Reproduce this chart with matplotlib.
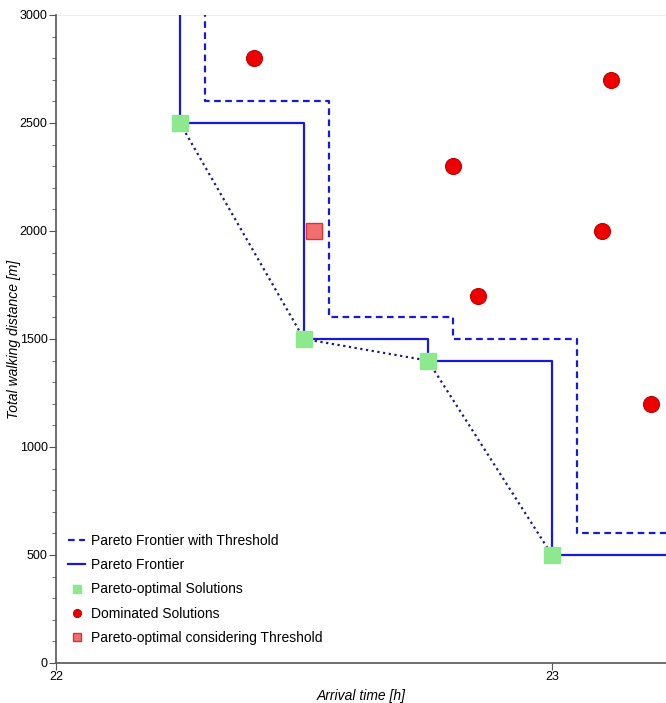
import matplotlib
matplotlib.use("Agg")
import matplotlib.pyplot as plt
from matplotlib.ticker import MultipleLocator

plt.rcParams['font.family'] = ['Liberation Sans', 'DejaVu Sans']

# Data
pareto_x = [22.25, 22.5, 22.75, 23.0]
pareto_y = [2500, 1500, 1400, 500]
dominated_x = [22.4, 22.8, 22.85, 23.12, 23.1, 23.2]
dominated_y = [2800, 2300, 1700, 2700, 2000, 1200]
threshold_opt_x = [22.52]
threshold_opt_y = [2000]
time_threshold = 0.05
dist_threshold = 100
x_ticks = [22, 23]
y_ticks = [0, 500, 1000, 1500, 2000, 2500, 3000]

fig = plt.figure(figsize=(6.66, 7.03), dpi=100)
ax = fig.add_axes([0.084, 0.0569, 0.916, 0.9218])

xmax = 23.23
# staircase frontier
fx = [pareto_x[0]] + pareto_x + [xmax + 0.1]
fy = [3200] + pareto_y + [pareto_y[-1]]
tx = [x + time_threshold for x in fx]
ty = [y + dist_threshold for y in fy]

ax.step(tx, ty, where='post', color='#1a1ad6', lw=1.6, ls=(0, (3, 2)),
        label='Pareto Frontier with Threshold', zorder=2)
ax.step(fx, fy, where='post', color='#1a1ad6', lw=1.6,
        label='Pareto Frontier', zorder=2)
ax.plot(pareto_x, pareto_y, color='#1a1a80', lw=1.6, ls=(0, (1, 1.6)), zorder=2)
ax.plot(pareto_x, pareto_y, ls='none', marker='s', ms=11.5, mfc='#8ee88e',
        mec='#8ee88e', label='Pareto-optimal Solutions', zorder=3)
ax.plot(dominated_x, dominated_y, ls='none', marker='o', ms=11.5, mfc='#ee0000',
        mec='#c00000', mew=0.8, label='Dominated Solutions', zorder=3)
ax.plot(threshold_opt_x, threshold_opt_y, ls='none', marker='s', ms=11, mfc='#f07070',
        mec='#e03030', mew=1.0, label='Pareto-optimal considering Threshold', zorder=3)

ax.set_xlim(22, xmax)
ax.set_ylim(0, 3000)
ax.set_xticks(x_ticks)
ax.set_yticks(y_ticks)
ax.yaxis.set_minor_locator(MultipleLocator(100))
for s in ['top', 'right']:
    ax.spines[s].set_visible(False)
for s in ['left', 'bottom']:
    ax.spines[s].set_color('#555555')
    ax.spines[s].set_linewidth(1.2)
ax.axhline(3000, color='#eeeeee', lw=0.8, zorder=0)
ax.tick_params(axis='both', which='major', length=5, color='#555555', labelsize=9, pad=1)
ax.tick_params(axis='y', which='minor', length=3, color='#555555')
ax.set_xlabel('Arrival time [h]', style='italic', fontsize=10)
ax.set_ylabel('Total walking distance [m]', style='italic', fontsize=10)
ax.xaxis.set_label_coords(0.5, -0.040)
ax.yaxis.set_label_coords(-0.058, 0.5)

leg = ax.legend(loc='lower left', bbox_to_anchor=(0.0, 0.008), frameon=False,
                fontsize=10, handlelength=1.2, handletextpad=0.4,
                labelspacing=0.75, markerscale=0.5, borderaxespad=0.5)

fig.savefig('out.png', dpi=100)
